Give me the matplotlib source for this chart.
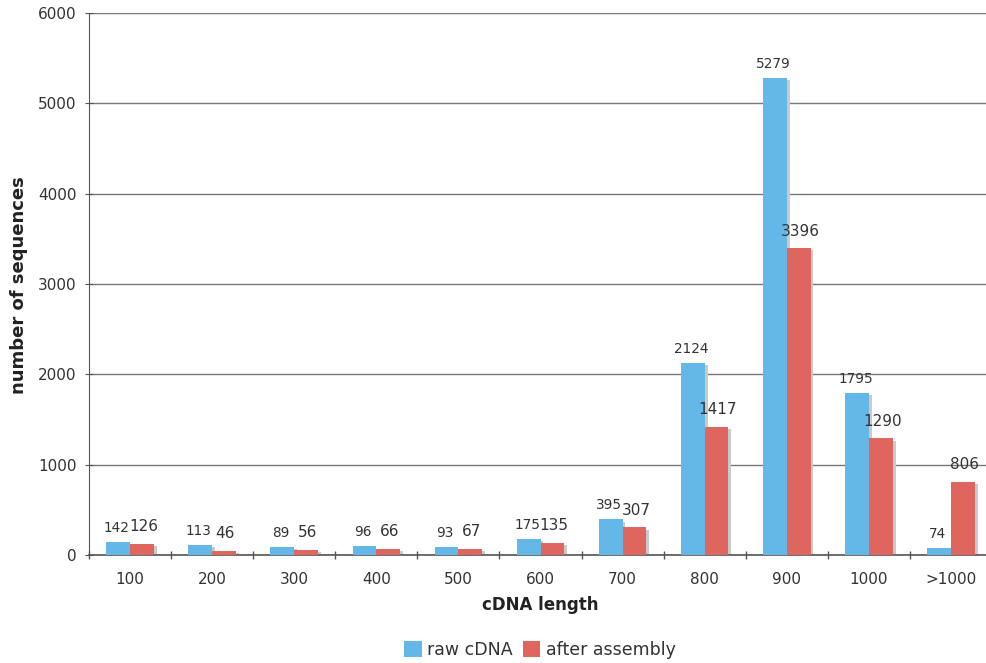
import numpy as np
from matplotlib import pyplot as plt

categories = ["100", "200", "300", "400", "500", "600", "700", "800", "900", "1000", ">1000"]
raw_cdna = [142, 113, 89, 96, 93, 175, 395, 2124, 5279, 1795, 74]
after_assembly = [126, 46, 56, 66, 67, 135, 307, 1417, 3396, 1290, 806]

blue = "#63b8e8"
red = "#de665e"
shadow = "#c9cacc"

fig = plt.figure(figsize=(9.86, 6.63), dpi=100)
ax = fig.add_axes([89/986, 1 - 555/663, 903/986, 542/663])

x = np.arange(len(categories))
w = 0.29
off = 0.035  # shadow shift in data units (~3px)

# drop shadows behind each bar
ax.bar(x - w/2 + off, raw_cdna, w, bottom=-25, color=shadow, zorder=2)
ax.bar(x + w/2 + off, after_assembly, w, bottom=-25, color=shadow, zorder=2)
b1 = ax.bar(x - w/2, raw_cdna, w, color=blue, zorder=3, label="raw cDNA")
b2 = ax.bar(x + w/2, after_assembly, w, color=red, zorder=3, label="after assembly")

for xi, v in zip(x, raw_cdna):
    ax.annotate(str(v), (xi - w/2, v), xytext=(-1, 5), textcoords="offset points",
                ha="center", va="bottom", fontsize=9.8, color="#333333", zorder=4)
for xi, v in zip(x, after_assembly):
    ax.annotate(str(v), (xi + w/2, v), xytext=(1, 7), textcoords="offset points",
                ha="center", va="bottom", fontsize=11, color="#333333", zorder=4)

ax.set_xlim(-0.5, len(categories) - 0.5)
ax.set_ylim(0, 6000)
ax.set_yticks(np.arange(0, 6001, 1000))
ax.set_xticks(np.arange(-0.5, len(categories), 1))
ax.set_xticklabels([])
ax.set_xticks(x, minor=True)
ax.set_xticklabels(categories, minor=True)
ax.tick_params(axis="x", which="minor", length=0, pad=12, labelsize=11, labelcolor="#333333")
ax.tick_params(axis="x", which="major", length=6, direction="inout", color="#555555", width=1)
ax.tick_params(axis="y", length=6, direction="inout", color="#555555", labelsize=11,
               labelcolor="#333333", pad=6)

ax.grid(axis="y", color="#777777", linewidth=1, zorder=0)
for s in ["top", "right"]:
    ax.spines[s].set_visible(False)
ax.spines["left"].set_color("#555555")
ax.spines["bottom"].set_color("#555555")
ax.spines["bottom"].set_linewidth(1.2)

ax.set_xlabel("cDNA length", fontsize=12, fontweight="bold", color="#222222", labelpad=7)
fig.text(19/986, 1 - 285/663, "number of sequences", rotation=90, ha="center", va="center",
         fontsize=13, fontweight="bold", color="#222222")

fig.legend(handles=[b1, b2], loc="center", bbox_to_anchor=(540/986, 1 - 650/663), ncol=2,
           frameon=False, fontsize=12.5, handlelength=1.0, handleheight=1.0,
           handletextpad=0.3, columnspacing=0.6, labelcolor="#333333")

fig.savefig("out.png", dpi=100)
